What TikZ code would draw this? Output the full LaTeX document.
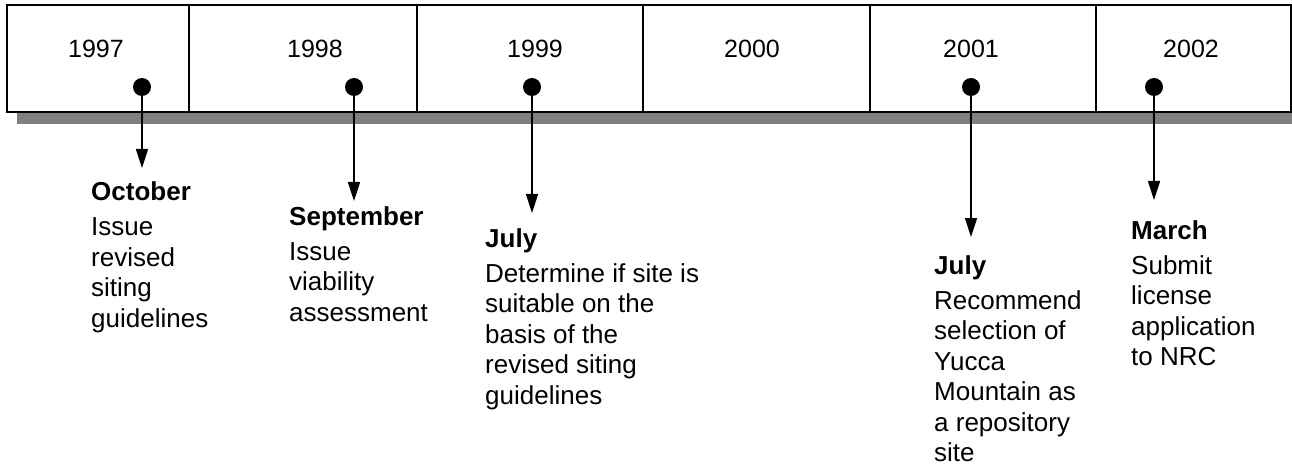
\documentclass[tikz,border=0pt]{standalone}
\usepackage{fontspec}
\setmainfont{Liberation Sans}
\usetikzlibrary{positioning, arrows.meta}

\begin{document}
\begin{tikzpicture}[
                    % GLOBAL CFG
                    x=1pt, y=-1pt,
                    font=\fontsize{26}{30.5}\selectfont,
                    >={Triangle[length=19pt,width=12pt]},
                    % Styles
                    cell/.style={% For the year boxes
                            rectangle,
                            draw,
                            fill=white,
                            line width=1.6pt,
                            minimum height=107pt,
                            anchor=north west,
                            inner sep=0pt,
                        },
                    year/.style={% For the year labels
                            font=\fontsize{25}{30}\selectfont,
                            anchor=base,
                        },
                    dot/.style={% For the milestone marks
                            circle,
                            fill=black,
                            minimum size=18pt,
                            inner sep=0pt,
                        },
                    event/.style={% For the texts under the bar
                            anchor=north west,
                            align=left,
                            inner sep=0pt,
                        },
                    ArrowD/.style={% Arrows going down
                            ->,
                            line width=1.6pt,
                        },
                ]

                \useasboundingbox (0,0) rectangle (1292,465);

                % Draw the shadow of the bar
                \fill [gray] (17,17) rectangle (1301,124);

                % Draw the year boxes named c#
                \node [cell, minimum width=182pt] (c1) at (6,4) {};
                \node [cell, minimum width=228pt] (c2) at (188,4) {};
                \node [cell, minimum width=226pt] (c3) at (416,4) {};
                \node [cell, minimum width=227pt] (c4) at (642,4) {};
                \node [cell, minimum width=226pt] (c5) at (869,4) {};
                \node [cell, minimum width=195pt] (c6) at (1095,4) {};

                % Year labels
                \node [year] (y1) at (96,58) {1997};
                \node [year] (y2) at (315,58) {1998};
                \node [year] (y3) at (535,58) {1999};
                \node [year] (y4) at (752,58) {2000};
                \node [year] (y5) at (971,58) {2001};
                \node [year] (y6) at (1191,58) {2002};

                % Draw the marks named d#
                \node [dot] (d1) at (142,87) {};
                \node [dot] (d2) at (354,87) {};
                \node [dot] (d3) at (532,87) {};
                \node [dot] (d4) at (971,87) {};
                \node [dot] (d5) at (1154,87) {};

                % Draw the events named e#
                \node [event] (e1) at (91,181.5) {\textbf{October}\\[4.5pt]Issue\\revised\\siting\\guidelines};
                \node [event] (e2) at (289,206) {\textbf{September}\\[4.5pt]Issue\\viability\\assessment};
                \node [event] (e3) at (485,228) {\textbf{July}\\[4.5pt]Determine if site is\\suitable on the\\basis of the\\revised siting\\guidelines};
                \node [event] (e4) at (934,255) {\textbf{July}\\[4.5pt]Recommend\\selection of\\Yucca\\Mountain as\\a repository\\site};
                \node [event] (e5) at (1131,220) {\textbf{March}\\[4.5pt]Submit\\license\\application\\to NRC};

                % Arrow ends
                \coordinate (t1) at (142,168);
                \coordinate (t2) at (354,201);
                \coordinate (t3) at (532,213);
                \coordinate (t4) at (971,237);
                \coordinate (t5) at (1154,200);

                % Drawing arrows
                \draw [ArrowD] (d1) -- (t1);
                \draw [ArrowD] (d2) -- (t2);
                \draw [ArrowD] (d3) -- (t3);
                \draw [ArrowD] (d4) -- (t4);
                \draw [ArrowD] (d5) -- (t5);

            \end{tikzpicture}
\end{document}
